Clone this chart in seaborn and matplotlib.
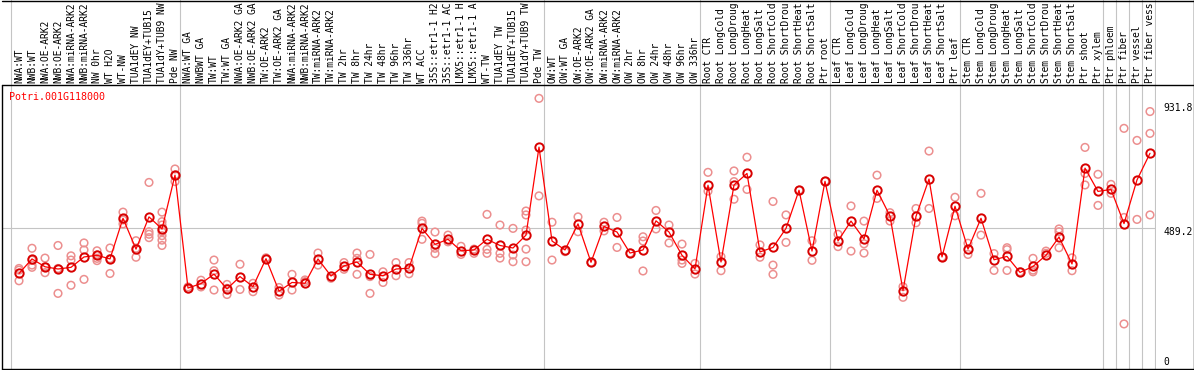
import matplotlib
matplotlib.use("Agg")
import matplotlib.pyplot as plt
import matplotlib.transforms as mtransforms
from matplotlib.lines import Line2D
import seaborn as sns
import pandas as pd

# ---------------- data ----------------
gene = "Potri.001G118000"

# sample labels as visible in the chart (cut to 14 characters)
labels = [
    "NWA:WT", "NWB:WT", "NWA:OE-ARK2", "NWB:OE-ARK2", "NWA:miRNA-ARK2", "NWB:miRNA-ARK2",
    "NW 0hr", "WT H2O", "WT-NW", "TUA1dEY NW", "TUA1dEY+TUB15", "TUA1dY+TUB9 NW", "Pde NW",
    "NWA:WT GA", "NWBWT GA", "TW:WT", "TW:WT GA", "NWA:OE-ARK2 GA", "NWB:OE-ARK2 GA",
    "TW:OE-ARK2", "TW:OE-ARK2 GA", "NWA:miRNA-ARK2", "NWB:miRNA-ARK2", "TW:miRNA-ARK2",
    "TW:miRNA-ARK2", "TW 2hr", "TW 8hr", "TW 24hr", "TW 48hr", "TW 96hr", "TW 336hr", "WT ACC",
    "35S::etr1-1 H2", "35S::etr1-1 AC", "LMX5::etr1-1 H", "LMX5::etr1-1 A", "WT-TW",
    "TUA1dEY TW", "TUA1dEY+TUB15", "TUA1dY+TUB9 TW", "Pde TW",
    "OW:WT", "OW:WT GA", "OW:OE-ARK2", "OW:OE-ARK2 GA", "OW:miRNA-ARK2", "OW:miRNA-ARK2",
    "OW 2hr", "OW 8hr", "OW 24hr", "OW 48hr", "OW 96hr", "OW 336hr",
    "Root CTR", "Root LongCold", "Root LongDroug", "Root LongHeat", "Root LongSalt",
    "Root ShortCold", "Root ShortDrou", "Root ShortHeat", "Root ShortSalt", "Ptr root",
    "Leaf CTR", "Leaf LongCold", "Leaf LongDroug", "Leaf LongHeat", "Leaf LongSalt",
    "Leaf ShortCold", "Leaf ShortDrou", "Leaf ShortHeat", "Leaf ShortSalt", "Ptr leaf",
    "Stem CTR", "Stem LongCold", "Stem LongDroug", "Stem LongHeat", "Stem LongSalt",
    "Stem ShortCold", "Stem ShortDrou", "Stem ShortHeat", "Stem ShortSalt", "Ptr shoot",
    "Ptr xylem", "Ptr phloem", "Ptr fiber", "Ptr vessel", "Ptr fiber vess",
]

means = [
    328, 380, 352, 344, 350, 387, 393, 380, 525, 415, 530, 487, 679,
    276, 292, 326, 273, 317, 281, 381, 265, 296, 293, 380, 319, 355, 369, 325, 320,
    344, 347, 489, 432, 450, 409, 412, 450, 428, 419, 465, 779,
    444, 412, 505, 368, 496, 476, 401, 412, 516, 476, 393, 344,
    643, 369, 644, 685, 405, 421, 489, 625, 408, 657,
    444, 515, 451, 625, 533, 267, 532, 665, 387, 568,
    415, 525, 377, 389, 332, 353, 393, 458, 362, 704, 621, 628, 506, 662, 757,
]

replicates = [
    [346, 340, 302], [418, 358, 350, 376], [383, 352, 331], [428, 346, 257], [391, 376, 286],
    [437, 412, 307], [409, 394, 374, 382], [419, 381, 328], [547, 519, 505], [445, 386, 418],
    [653, 477, 456, 468], [547, 513, 501, 463, 447, 428, 477], [701, 656, 679],
    [280, 273], [304, 280], [376, 338, 269], [289, 253, 275], [361, 271], [293, 263],
    [384, 380], [278, 251], [325, 269], [305, 299], [401, 358], [311], [367, 343],
    [401, 325, 382], [396, 257, 317], [334, 296], [367, 320], [367, 327], [515, 450, 507],
    [476, 399, 418], [465, 441], [425, 396], [415, 400], [539, 414, 400], [501, 400, 383],
    [489, 394, 370], [551, 537, 483, 415, 370], [953, 605],
    [511, 376], [406], [530, 477], [368], [511, 480], [528, 421], [401], [459, 444, 337],
    [553, 487], [501, 437], [433, 364, 376], [364, 326],
    [689, 622], [388, 338], [694, 656, 593], [743, 628], [430, 386], [585, 358, 325],
    [537, 439], [625], [445, 375], [657],
    [468, 424], [569, 408], [515, 434, 401], [679, 596], [545, 515], [281, 243],
    [560, 509], [765, 560], [387], [600, 534],
    [436, 396], [614, 465], [399, 339], [420, 413, 339], [334], [382, 334, 340],
    [408, 400], [487, 477, 420], [384, 338], [778, 685, 644], [682, 571], [646, 614],
    [846, 528, 148], [803, 521], [906, 828, 537],
]

group_starts = [0, 13, 41, 53, 63, 73, 84, 85, 86, 87, 88]
ytick_values = [931.8, 489.2, 0]
ytick_labels = ["931.8", "489.2", "0"]

# ---------------- tables ----------------
pos = list(range(len(labels)))
df_mean = pd.DataFrame({"pos": pos, "value": means})
rows = [(i, v) for i, reps in enumerate(replicates) for v in reps]
df_rep = pd.DataFrame(rows, columns=["pos", "value"])

# ---------------- figure ----------------
sns.set_style("white")
plt.rcParams["font.family"] = ["DejaVu Sans Mono", "DejaVu Sans"]

W, H = 1194, 370
fig = plt.figure(figsize=(W / 100, H / 100), dpi=100)
left_px, right_px, top_px, bot_px = 1.5, 1156.0, 85.0, 369.0
ax = fig.add_axes([left_px / W, (H - bot_px) / H, (right_px - left_px) / W, (bot_px - top_px) / H])
lab = fig.add_axes([left_px / W, (H - top_px) / H, (right_px - left_px) / W, top_px / H])

xlim = ((left_px - 19) / 13.0, (right_px - 19) / 13.0)
ylim = ((365.4 - bot_px) / 0.2802, (365.4 - top_px) / 0.2802)
for a in (ax, lab):
    a.set_xlim(*xlim)
    a.set_axis_off()
ax.set_ylim(*ylim)
lab.set_ylim(0, 1)

grid_c = "#c4c4c4"
for k in group_starts:
    ax.axvline(k - 0.58, color=grid_c, lw=0.8, zorder=0)
    lab.axvline(k - 0.58, color=grid_c, lw=0.8, zorder=0)
ax.axhline(489.2, color=grid_c, lw=0.8, zorder=0)

# replicates
sns.scatterplot(data=df_rep, x="pos", y="value", ax=ax, s=30, marker="o",
                color="#ec8f8f", linewidth=1.1, legend=False, zorder=2)
coll = ax.collections[-1]
coll.set_facecolor("none")
coll.set_edgecolor("#ec8f8f")

# means
sns.lineplot(data=df_mean, x="pos", y="value", ax=ax, color="#ff0000", lw=0.9,
             errorbar=None, marker="o", markersize=6, markerfacecolor="none",
             markeredgecolor="#d80000", markeredgewidth=1.4, zorder=3, legend=False)

# sample labels (rotated)
ltrans = mtransforms.blended_transform_factory(lab.transData, lab.transAxes)
for i, t in enumerate(labels):
    lab.text(i, 2.0 / top_px, t, rotation=90, ha="center", va="bottom",
             fontsize=6.9, color="black", transform=ltrans)

# gene name
ax.text((9.3 - left_px) / (right_px - left_px), (365.4 - 97.3) / 0.2802, gene,
        transform=mtransforms.blended_transform_factory(ax.transAxes, ax.transData),
        color="#ff0000", fontsize=7.2, ha="left", va="center")

# y labels on the right
ytrans = mtransforms.blended_transform_factory(ax.transAxes, ax.transData)
xl = (1163 - left_px) / (right_px - left_px)
for v, t in zip(ytick_values, ytick_labels):
    yv = v - 12 if v > 0 else (365.4 - 361.7) / 0.2802
    ax.text(xl, yv, t, transform=ytrans, fontsize=7, ha="left", va="center", color="black")

# frame lines
def fline(x0, y0, x1, y1):
    fig.add_artist(Line2D([x0 / W, x1 / W], [1 - y0 / H, 1 - y1 / H],
                          transform=fig.transFigure, color="black", lw=1.0))

fline(1.5, 0.5, 1193.5, 0.5)
fline(1.5, top_px, 1193.5, top_px)
fline(1.5, bot_px, 1193.5, bot_px)
fline(1193.5, 0, 1193.5, bot_px)
fline(1.5, top_px, 1.5, bot_px)

fig.savefig("out.png", dpi=100, facecolor="white")
